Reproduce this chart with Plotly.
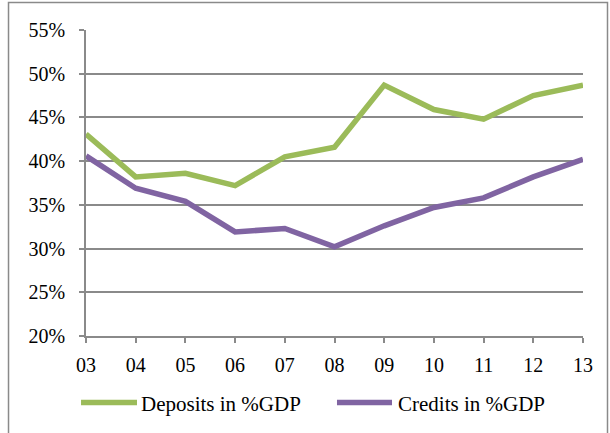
import plotly.graph_objects as go

years = ["03", "04", "05", "06", "07", "08", "09", "10", "11", "12", "13"]
deposits = [43.1, 38.2, 38.6, 37.2, 40.5, 41.6, 48.7, 45.9, 44.8, 47.5, 48.7]
credits = [40.6, 36.9, 35.4, 31.9, 32.3, 30.2, 32.6, 34.7, 35.8, 38.2, 40.2]
series_names = ["Deposits in %GDP", "Credits in %GDP"]
series_colors = ["#9BBB59", "#8064A2"]
ytick_vals = [20, 25, 30, 35, 40, 45, 50, 55]

FONT = "Liberation Serif, Times New Roman, serif"
GRID = "#8a8a8a"

fig = go.Figure()
for vals, name, col in zip([deposits, credits], series_names, series_colors):
    fig.add_trace(go.Scatter(x=years, y=vals, mode="lines", name=name,
                             line=dict(color=col, width=5.5), showlegend=False))

fig.update_layout(
    width=610, height=433,
    margin=dict(l=86, r=27, t=30, b=97),
    paper_bgcolor="white", plot_bgcolor="white",
    font=dict(family=FONT, size=20, color="black"),
)
fig.update_xaxes(type="category", range=[0, 10], showgrid=False,
                 showline=True, linecolor=GRID, linewidth=1.5,
                 ticks="outside", ticklen=5, tickcolor=GRID, tickwidth=1.5,
                 tickfont=dict(family=FONT, size=20, color="black"),
                 ticklabelstandoff=5)
fig.update_yaxes(range=[20, 55], tickvals=ytick_vals,
                 ticktext=[f"{v}%" for v in ytick_vals],
                 showgrid=True, gridcolor=GRID, gridwidth=1.5,
                 showline=True, linecolor=GRID, linewidth=1.5,
                 ticks="outside", ticklen=5, tickcolor=GRID, tickwidth=1.5,
                 tickfont=dict(family=FONT, size=20, color="black"),
                 ticklabelstandoff=10, zeroline=False)

# outer frame
fig.add_shape(type="rect", xref="paper", yref="paper",
              x0=-0.1559, x1=1.0493, y0=-0.4, y1=1.0899,
              line=dict(color="#8a8a8a", width=1.5), layer="below")

# legend (custom, to match the long line samples)
leg = [(-0.010, 0.1026, 0.1057), (0.505, 0.6157, 0.6237)]
for (lx0, lx1, tx), name, col in zip(leg, series_names, series_colors):
    fig.add_shape(type="line", xref="paper", yref="paper",
                  x0=lx0, x1=lx1, y0=-0.2173, y1=-0.2173,
                  line=dict(color=col, width=5.5))
    fig.add_annotation(xref="paper", yref="paper", x=tx, y=-0.222,
                       text=name, showarrow=False, xanchor="left",
                       yanchor="middle",
                       font=dict(family=FONT, size=21, color="black"))

fig.write_html("out.html", config={"displayModeBar": False},
               post_script="document.body.style.margin='0';document.body.style.overflow='hidden';")
